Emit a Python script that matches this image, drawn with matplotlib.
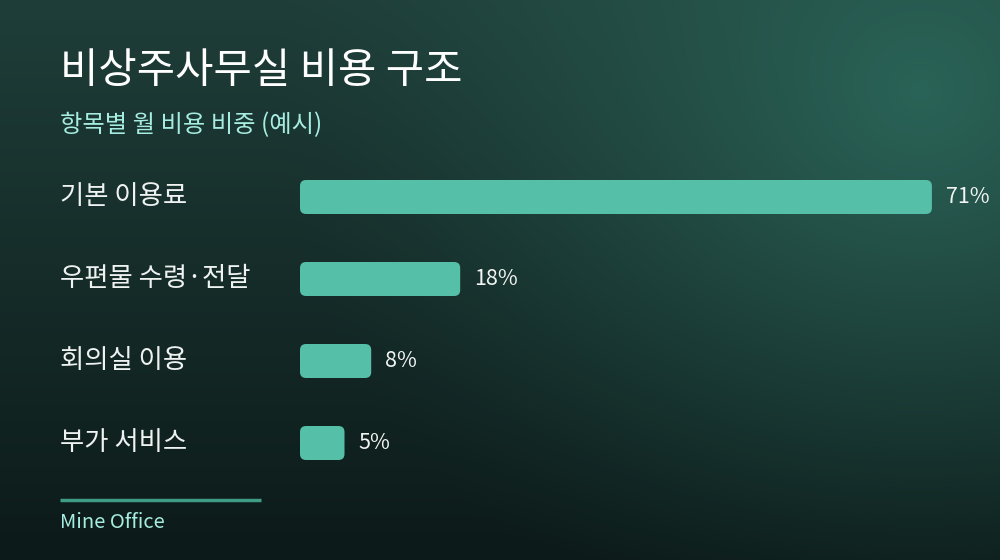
import numpy as np
import matplotlib.pyplot as plt
from matplotlib.patches import FancyBboxPatch
from matplotlib.colors import to_rgb

plt.rcParams['font.family'] = ['Noto Sans CJK KR', 'DejaVu Sans']

title = "비상주사무실 비용 구조"
subtitle = "항목별 월 비용 비중 (예시)"
categories = ["기본 이용료", "우편물 수령·전달", "회의실 이용", "부가 서비스"]
shares = [71, 18, 8, 5]
footer = "Mine Office"

W, H = 1000, 560
fig = plt.figure(figsize=(W / 100, H / 100), dpi=100)

# background: dark vertical gradient plus a soft glow top right
bg = fig.add_axes([0, 0, 1, 1])
yy, xx = np.mgrid[0:H, 0:W]
top = np.array(to_rgb("#1f3e39"))
bottom = np.array(to_rgb("#0c1a19"))
t = (yy / H)[..., None]
img = top * (1 - t) + bottom * t
glow = np.array(to_rgb("#2a6357"))
d = np.sqrt((xx - 920) ** 2 + ((yy - 90) * 1.1) ** 2) / 650
g = np.clip(1 - d, 0, 1)[..., None] ** 1.4
img = img * (1 - g) + glow * g
bg.imshow(img, extent=[0, W, H, 0], aspect="auto")
bg.set_xlim(0, W)
bg.set_ylim(H, 0)
bg.axis("off")

bg.text(60, 72, title, fontsize=30, color="#ffffff", va="center", ha="left")
bg.text(60, 125, subtitle, fontsize=17.5, color="#a6ece1", va="center", ha="left")
bg.plot([60, 261], [500, 500], color="#3f9c86", lw=2.5, solid_capstyle="butt")
bg.text(60, 522, footer, fontsize=14.5, color="#a6ece1", va="center", ha="left")

# bar area: 300px..1000px wide, rows centred at 197, 279, 361, 443 px
px_per_unit = 8.9
slot = 82
ax = fig.add_axes([300 / W, 1 - 484 / H, 700 / W, 328 / H])
ax.set_xlim(0, 700 / px_per_unit)
ax.set_ylim(len(categories) - 0.5, -0.5)
ax.axis("off")
ax.patch.set_alpha(0)

bar_h = 34 / slot
r = 6 / px_per_unit
for i, (cat, v) in enumerate(zip(categories, shares)):
    box = FancyBboxPatch((0, i - bar_h / 2), v, bar_h,
                         boxstyle=f"round,pad=0,rounding_size={r}",
                         mutation_aspect=px_per_unit / slot,
                         fc="#55bfa8", ec="none")
    ax.add_patch(box)
    ax.text(v + 14 / px_per_unit, i, f"{v}%", fontsize=15.5, color="#f2f5f4",
            va="center", ha="left")
    ax.text(-240 / px_per_unit, i, cat, fontsize=19, color="#eef2f1",
            va="center", ha="left", clip_on=False)

fig.savefig("out.png", dpi=100)
